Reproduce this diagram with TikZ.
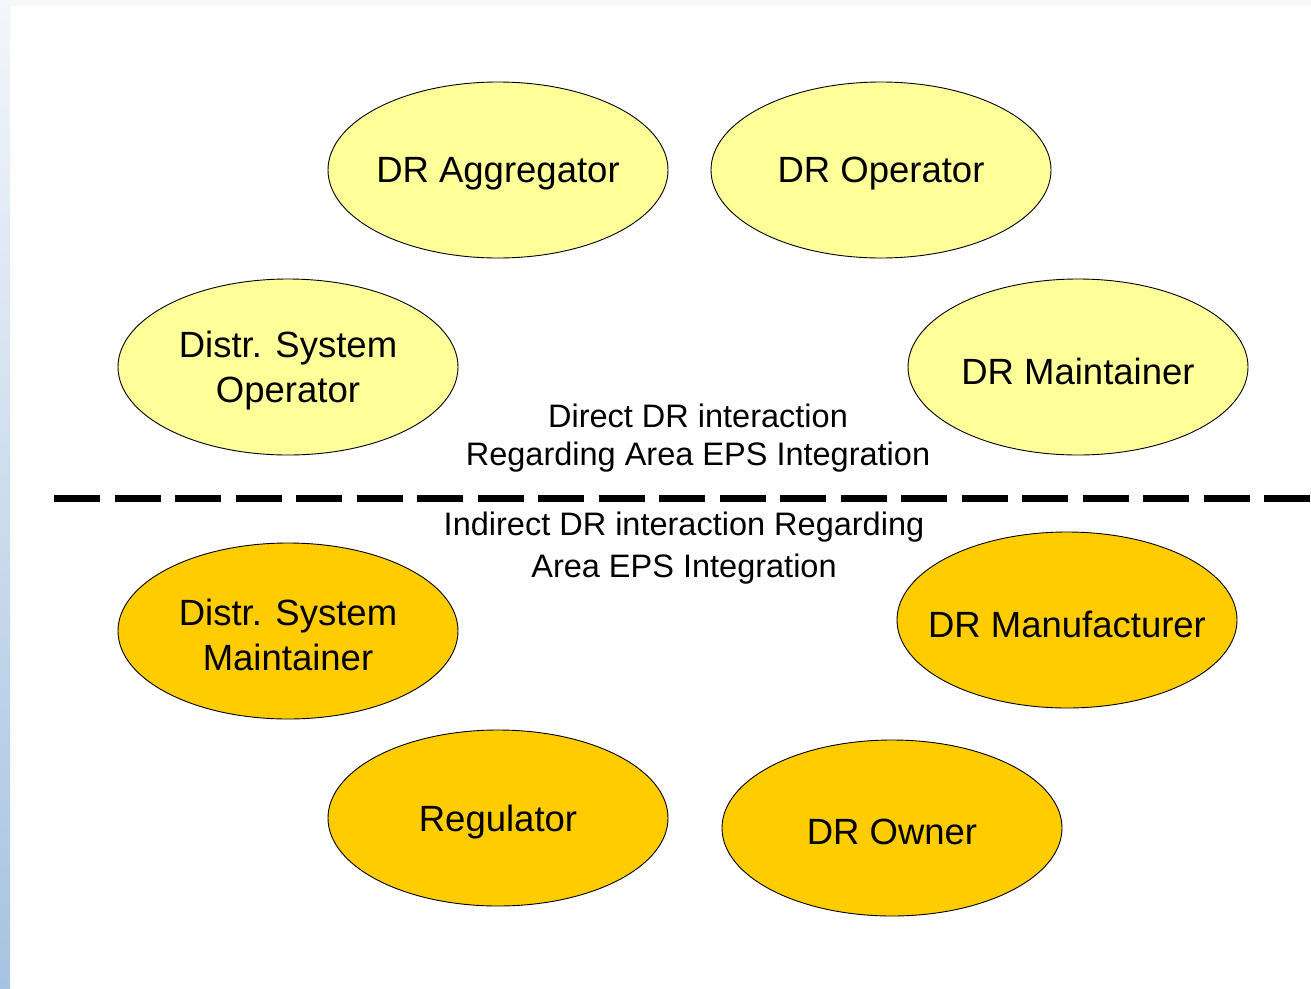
\documentclass[tikz,border=0pt]{standalone}
\usepackage{fontspec}
\setmainfont{Liberation Sans}
\usetikzlibrary{shapes.geometric}
\definecolor{lightyel}{HTML}{FFFF99}
\definecolor{darkyel}{HTML}{FFCC00}
\definecolor{striptop}{HTML}{F3F6FA}
\definecolor{stripbot}{HTML}{A6C3E1}
\definecolor{topband}{HTML}{F8F9FB}
\tikzset{
  actortext/.style={align=center, inner sep=0pt, yshift=-4pt, font=\fontsize{36.5}{45}\selectfont},
  actor/.style={ellipse, draw=black, line width=0.9pt, minimum width=340pt, minimum height=176pt, inner sep=0pt},
  direct/.style={actor, fill=lightyel},
  indirect/.style={actor, fill=darkyel},
  caption/.style={align=center, inner sep=0pt},
  divider/.style={line width=7pt, dash pattern=on 46pt off 14.5pt}
}
\begin{document}
\begin{tikzpicture}[x=1pt,y=-1pt]
\useasboundingbox (0,0) rectangle (1311,988);
\fill[white] (0,0) rectangle (1311,988);
\fill[topband] (0,0) rectangle (1311,6);
\shade[top color=striptop, bottom color=stripbot] (0,0) rectangle (10,988);

\node[direct, label={[actortext]center:DR Aggregator}] (agg) at (498,170) {};
\node[direct, label={[actortext]center:DR Operator}] (op) at (881,170) {};
\node[direct, label={[actortext]center:{Distr. System\\Operator}}] (dso) at (288,367) {};
\node[direct, label={[actortext]center:DR Maintainer}] (maint) at (1078,367) {};

\node[indirect, label={[actortext]center:{Distr. System\\Maintainer}}] (dsm) at (288,631) {};
\node[indirect, label={[actortext]center:DR Manufacturer}] (manu) at (1067,620) {};
\node[indirect, label={[actortext]center:Regulator}] (reg) at (498,818) {};
\node[indirect, label={[actortext]center:DR Owner}] (own) at (892,828) {};

\node[caption, font=\fontsize{32.5}{38}\selectfont] (direct) at (698,438) {Direct DR interaction\\Regarding Area EPS Integration};
\node[caption, font=\fontsize{32.5}{42}\selectfont] (indirect) at (684,548) {Indirect DR interaction Regarding\\Area EPS Integration};

\coordinate (dl) at (54,498);
\coordinate (dr) at (1311,498);
\draw[divider] (dl) -- (dr);
\end{tikzpicture}
\end{document}
